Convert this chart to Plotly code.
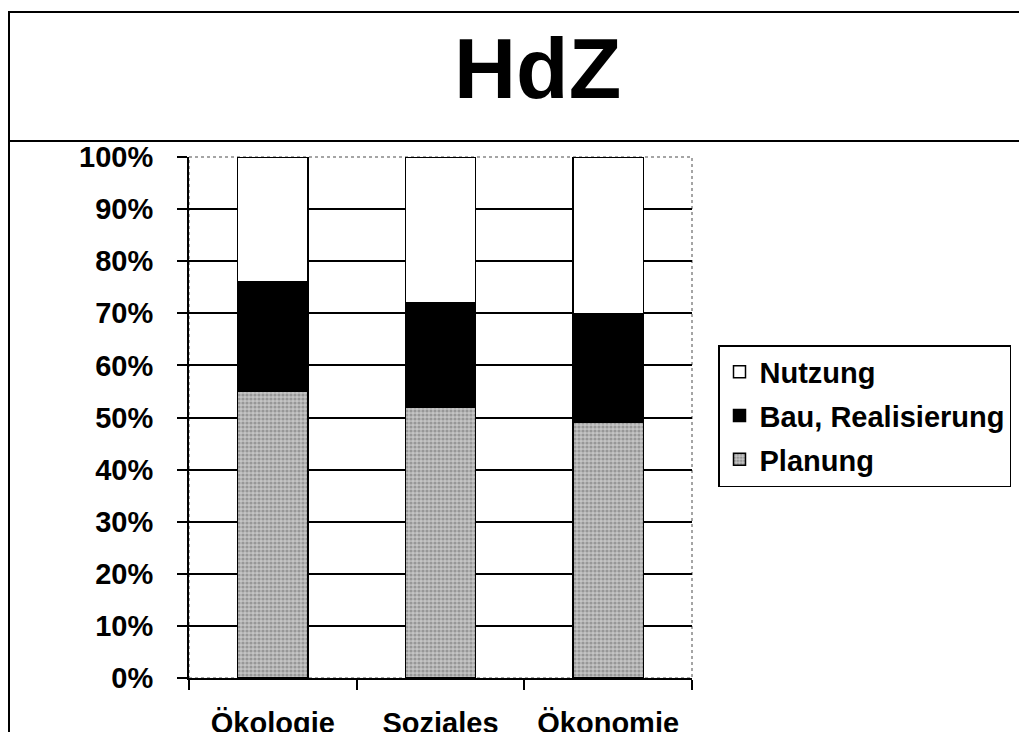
import plotly.graph_objects as go

categories = ["Ökologie", "Soziales", "Ökonomie"]
planung = [55, 52, 49]
bau = [21, 20, 21]
nutzung = [24, 28, 30]
y_ticks = list(range(0, 101, 10))
y_tick_labels = [f"{v}%" for v in y_ticks]

OFF = 8  # page body margin
W, H = 1027 - OFF, 732 - OFF
# plot area in screen pixels
SX0, SX1, SY0, SY1 = 189, 692, 157, 678
L = SX0 - OFF
T = SY0 - OFF
R = W - (SX1 - OFF)
B = H - (SY1 - OFF)
PW, PH = W - L - R, H - T - B

def px(x):
    return (x - OFF - L) / PW

def py(y):
    return 1 - (y - OFF - T) / PH

FONT = "Liberation Sans, Arial, sans-serif"
FS = 29

fig = go.Figure()
fig.add_trace(go.Bar(
    x=categories, y=planung, name="Planung", legendgroup="p", legendrank=3,
    marker=dict(color="#c4c4c4", line=dict(color="black", width=1.5),
                pattern=dict(shape=".", fgcolor="#6a6a6a", size=4, solidity=0.5)),
    width=0.42))
fig.add_trace(go.Bar(
    x=categories, y=bau, name="Bau, Realisierung", legendgroup="b", legendrank=2,
    marker=dict(color="black", line=dict(color="black", width=1.5)),
    width=0.42))
fig.add_trace(go.Bar(
    x=categories, y=nutzung, name="Nutzung", legendgroup="n", legendrank=1,
    marker=dict(color="white", line=dict(color="black", width=1.5)),
    width=0.42))

fig.update_layout(
    width=W, height=H,
    margin=dict(l=L, r=R, t=T, b=B, autoexpand=False),
    barmode="stack",
    paper_bgcolor="white", plot_bgcolor="white",
    font=dict(family=FONT, size=FS, color="black"),
    showlegend=True,
    legend=dict(
        x=px(718), y=py(345), xanchor="left", yanchor="top",
        bordercolor="black", borderwidth=1.5, bgcolor="white",
        traceorder="grouped", tracegroupgap=3,
        font=dict(family=FONT, size=FS, color="black", weight="bold"),
        itemwidth=30,
    ),
    xaxis=dict(
        range=[-0.5, 2.5], showline=True, linecolor="black", linewidth=2,
        ticks="outside", tickson="boundaries", ticklen=10, tickwidth=1.5, tickcolor="black",
        showgrid=False, ticklabelstandoff=18,
        tickfont=dict(family=FONT, size=FS, color="black", weight="bold"),
    ),
    yaxis=dict(
        range=[0, 100], tickvals=y_ticks, ticktext=y_tick_labels,
        showline=True, linecolor="black", linewidth=2,
        ticks="outside", ticklen=10, tickwidth=2, tickcolor="black",
        showgrid=True, gridcolor="black", gridwidth=2,
        zeroline=False, ticklabelstandoff=18,
        tickfont=dict(family=FONT, size=FS, color="black", weight="bold"),
    ),
    annotations=[dict(
        text="HdZ", xref="paper", yref="paper", x=px(537), y=py(68),
        xanchor="center", yanchor="middle", showarrow=False,
        font=dict(family=FONT, size=86, color="black", weight="bold"),
    )],
    shapes=[
        dict(type="rect", xref="paper", yref="paper", x0=0, x1=1, y0=0, y1=1,
             line=dict(color="#888888", width=1.5, dash="dot"), layer="below"),
        dict(type="line", xref="paper", yref="paper", x0=px(8), x1=px(1030), y0=py(12), y1=py(12),
             line=dict(color="black", width=2)),
        dict(type="line", xref="paper", yref="paper", x0=px(9), x1=px(1030), y0=py(141), y1=py(141),
             line=dict(color="black", width=2)),
        dict(type="line", xref="paper", yref="paper", x0=px(9), x1=px(9), y0=py(12), y1=py(735),
             line=dict(color="black", width=2)),
    ],
)

fig.write_html("out.html")
